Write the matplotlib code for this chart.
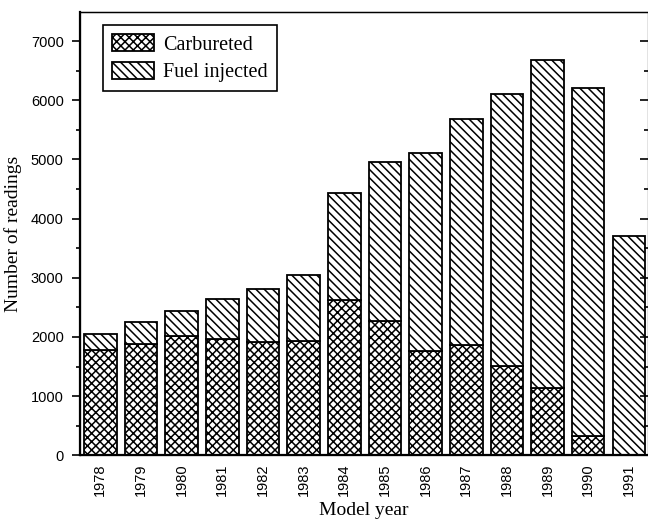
import numpy as np
import matplotlib
matplotlib.use("Agg")
import matplotlib.pyplot as plt
from matplotlib.ticker import MultipleLocator

# data
years = ['1978', '1979', '1980', '1981', '1982', '1983', '1984',
         '1985', '1986', '1987', '1988', '1989', '1990', '1991']
carbureted = [1775, 1880, 2015, 1970, 1920, 1930, 2620,
              2265, 1760, 1860, 1505, 1135, 330, 0]
totals = [2050, 2250, 2435, 2645, 2815, 3045, 4425,
          4950, 5110, 5680, 6105, 6675, 6200, 3700]
fuel_injected = [t - c for t, c in zip(totals, carbureted)]

plt.rcParams['hatch.linewidth'] = 1.1

fig = plt.figure(figsize=(6.48, 5.24), dpi=100)
ax = fig.add_axes([0.124, 0.131, 0.876, 0.846])

x = np.arange(len(years))
ax.bar(x, carbureted, 0.8, color='white', edgecolor='black', hatch='xxxx',
       linewidth=1.3, label='Carbureted')
ax.bar(x, fuel_injected, 0.8, bottom=carbureted, color='white', edgecolor='black',
       hatch='\\\\\\\\', linewidth=1.3, label='Fuel injected')

ax.set_xlim(-0.49, 13.47)
ax.set_ylim(0, 7490)
ax.set_xticks(x)
ax.set_xticklabels(years, rotation=90, family='Liberation Sans', fontsize=10.5)
ax.tick_params(axis='x', length=0, pad=6)

ax.yaxis.set_major_locator(MultipleLocator(1000))
ax.yaxis.set_minor_locator(MultipleLocator(500))
ax.tick_params(axis='y', which='major', direction='out', length=6, width=1.2, pad=6,
               labelsize=10.5)
ax.tick_params(axis='y', which='minor', direction='out', length=3, width=1.2)
for lab in ax.get_yticklabels():
    lab.set_family('Liberation Sans')

# inward ticks on the right side
ax2 = ax.twinx()
ax2.set_ylim(ax.get_ylim())
ax2.yaxis.set_major_locator(MultipleLocator(1000))
ax2.yaxis.set_minor_locator(MultipleLocator(500))
ax2.tick_params(axis='y', which='major', direction='in', length=6, width=1.2,
                labelright=False)
ax2.tick_params(axis='y', which='minor', direction='in', length=3, width=1.2)

for sp in ['left', 'bottom']:
    ax.spines[sp].set_linewidth(1.6)
ax.spines['top'].set_linewidth(1.0)

ax.set_xlabel('Model year', family='Liberation Serif', fontsize=14, labelpad=4)
ax.set_ylabel('Number of readings', family='Liberation Serif', fontsize=14, labelpad=6)

leg = ax.legend(loc='upper left', bbox_to_anchor=(0.04, 0.971),
                prop={'family': 'Liberation Serif', 'size': 14.5},
                fancybox=False, edgecolor='black', framealpha=1,
                handlelength=2.1, handleheight=0.95, handletextpad=0.45,
                borderpad=0.45, labelspacing=0.35, borderaxespad=0)
leg.get_frame().set_linewidth(1.2)

fig.savefig('out.png', dpi=100)
